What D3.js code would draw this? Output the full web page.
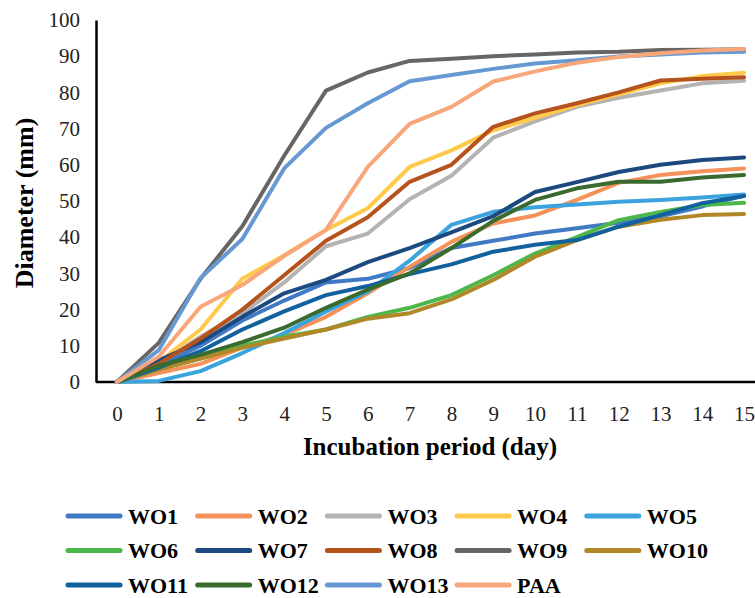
<!DOCTYPE html>
<html>
<head>
<meta charset="utf-8">
<script src="https://cdn.jsdelivr.net/npm/d3@7"></script>
<style>
  body { margin: 0; background: #fff; }
  svg text { font-family: 'Liberation Serif'; }
</style>
</head>
<body>
<div id="chart"></div>
<script>
var days = [0, 1, 2, 3, 4, 5, 6, 7, 8, 9, 10, 11, 12, 13, 14, 15];
var yTicks = [0, 10, 20, 30, 40, 50, 60, 70, 80, 90, 100];

var seriesNames = ["WO1", "WO2", "WO3", "WO4", "WO5", "WO6", "WO7",
                   "WO8", "WO9", "WO10", "WO11", "WO12", "WO13", "PAA"];

var wo1  = [0, 4.5, 10, 17, 22.5, 27.5, 28.5, 31.5, 37, 39, 41, 42.5, 44, 45.8, 48.5, 51.5];
var wo2  = [0, 2.5, 5, 9.5, 13, 18, 24.5, 31.8, 38.7, 43.8, 46, 50.3, 55, 57.2, 58.2, 59];
var wo3  = [0, 5, 12.5, 19, 27.5, 37.5, 41, 50.5, 57, 67.5, 72, 76, 78.5, 80.5, 82.5, 83.2];
var wo4  = [0, 5.5, 14.5, 28.5, 35, 42, 48, 59.4, 64, 69.5, 73, 76.5, 79.5, 82.5, 84.5, 85.4];
var wo5  = [0, 0.3, 3, 8, 13.5, 19.5, 25, 33.5, 43.4, 47, 48.3, 49, 49.8, 50.3, 51, 51.8];
var wo6  = [0, 3.5, 6.5, 10, 12.5, 14.5, 18, 20.5, 24, 29.5, 35.5, 40, 44.7, 47, 48.9, 49.5];
var wo7  = [0, 6, 11, 18, 24.5, 28.2, 33.1, 37, 41.3, 45.8, 52.5, 55.2, 58, 60, 61.3, 62];
var wo8  = [0, 5, 12, 20, 29.5, 39, 45.5, 55.3, 60, 70.5, 74.2, 77, 80, 83.3, 83.8, 84.2];
var wo9  = [0, 10.8, 28.5, 43, 62.5, 80.5, 85.5, 88.7, 89.3, 90, 90.5, 91, 91.2, 91.7, 91.8, 91.9];
var wo10 = [0, 3.5, 6.5, 9.5, 12, 14.5, 17.5, 19, 22.8, 28.2, 34.6, 39.2, 42.9, 44.8, 46.1, 46.4];
var wo11 = [0, 4, 8.5, 14.5, 19.5, 24, 26.5, 29.8, 32.5, 36, 37.9, 39.2, 42.9, 46.1, 49.4, 51.4];
var wo12 = [0, 4.5, 7.5, 11, 15, 20.5, 25.5, 30, 37, 44.5, 50.3, 53.5, 55.3, 55.3, 56.5, 57.2];
var wo13 = [0, 8.8, 28.7, 39.5, 59, 70.2, 77, 83.1, 84.8, 86.5, 88, 88.9, 89.9, 90.5, 91, 91.2];
var paa  = [0, 7, 20.8, 26.8, 34.8, 42, 59.4, 71.3, 76, 83, 85.8, 88.2, 89.8, 90.8, 91.6, 92];

var seriesValues = [wo1, wo2, wo3, wo4, wo5, wo6, wo7, wo8, wo9, wo10, wo11, wo12, wo13, paa];

var colors = ["#4079C4", "#F4925A", "#B3B3B3", "#FFC94A", "#3BA3DD", "#4DB74A", "#1C4A80",
              "#B6521C", "#696565", "#B08828", "#12619F", "#3A6B2E", "#6699D3", "#F8A77A"];

var serif = "'Liberation Serif'";
var width = 755, height = 598;

var svg = d3.select("#chart")
  .append("svg")
    .attr("width", width)
    .attr("height", height);

// category axis: points sit in the middle of each band, like the spreadsheet chart
var x = d3.scalePoint()
  .domain(days)
  .range([96, 765])
  .padding(0.5);

var y = d3.scaleLinear()
  .domain([0, 100])
  .range([382, 20]);

var xAxis = svg.append("g")
  .attr("transform", "translate(0,382)")
  .call(d3.axisBottom(x).tickSize(0).tickPadding(24))
  .attr("font-family", null);
xAxis.select(".domain")
  .attr("d", "M96,0H765")
  .attr("stroke", "#000")
  .attr("stroke-width", 2.5);
xAxis.selectAll("text")
  .style("font-family", serif)
  .style("font-size", "21px")
  .attr("fill", "#222");

var yAxis = svg.append("g")
  .attr("transform", "translate(96,0)")
  .call(d3.axisLeft(y).tickValues(yTicks).tickSize(0).tickPadding(16))
  .attr("font-family", null);
yAxis.select(".domain")
  .attr("stroke", "#000")
  .attr("stroke-width", 2.5);
yAxis.selectAll("text")
  .style("font-family", serif)
  .style("font-size", "21px")
  .attr("fill", "#222");

svg.append("text")
  .attr("x", 430)
  .attr("y", 455)
  .attr("text-anchor", "middle")
  .style("font-family", serif)
  .style("font-size", "25px")
  .style("font-weight", "bold")
  .text("Incubation period (day)");

svg.append("text")
  .attr("transform", "translate(33,203) rotate(-90)")
  .attr("text-anchor", "middle")
  .style("font-family", serif)
  .style("font-size", "26px")
  .style("font-weight", "bold")
  .text("Diameter (mm)");

var line = d3.line()
  .x(function(d, i) { return x(days[i]); })
  .y(function(d) { return y(d); });

svg.selectAll("path.series")
  .data(seriesValues)
  .enter()
  .append("path")
    .attr("class", "series")
    .attr("d", line)
    .attr("fill", "none")
    .attr("stroke", function(d, i) { return colors[i]; })
    .attr("stroke-width", 4)
    .attr("stroke-linejoin", "round")
    .attr("stroke-linecap", "round");

// legend, 5 per row
var legend = svg.selectAll("g.legend")
  .data(seriesNames)
  .enter()
  .append("g")
    .attr("class", "legend")
    .attr("transform", function(d, i) {
      return "translate(" + (68 + (i % 5) * 129.7) + "," + (516 + Math.floor(i / 5) * 34.5) + ")";
    });

legend.append("line")
  .attr("x1", 0)
  .attr("x2", 52)
  .attr("stroke", function(d, i) { return colors[i]; })
  .attr("stroke-width", 5)
  .attr("stroke-linecap", "round");

legend.append("text")
  .attr("x", 60)
  .attr("dy", "0.35em")
  .style("font-family", serif)
  .style("font-size", "22px")
  .style("font-weight", "bold")
  .text(function(d) { return d; });
</script>
</body>
</html>
